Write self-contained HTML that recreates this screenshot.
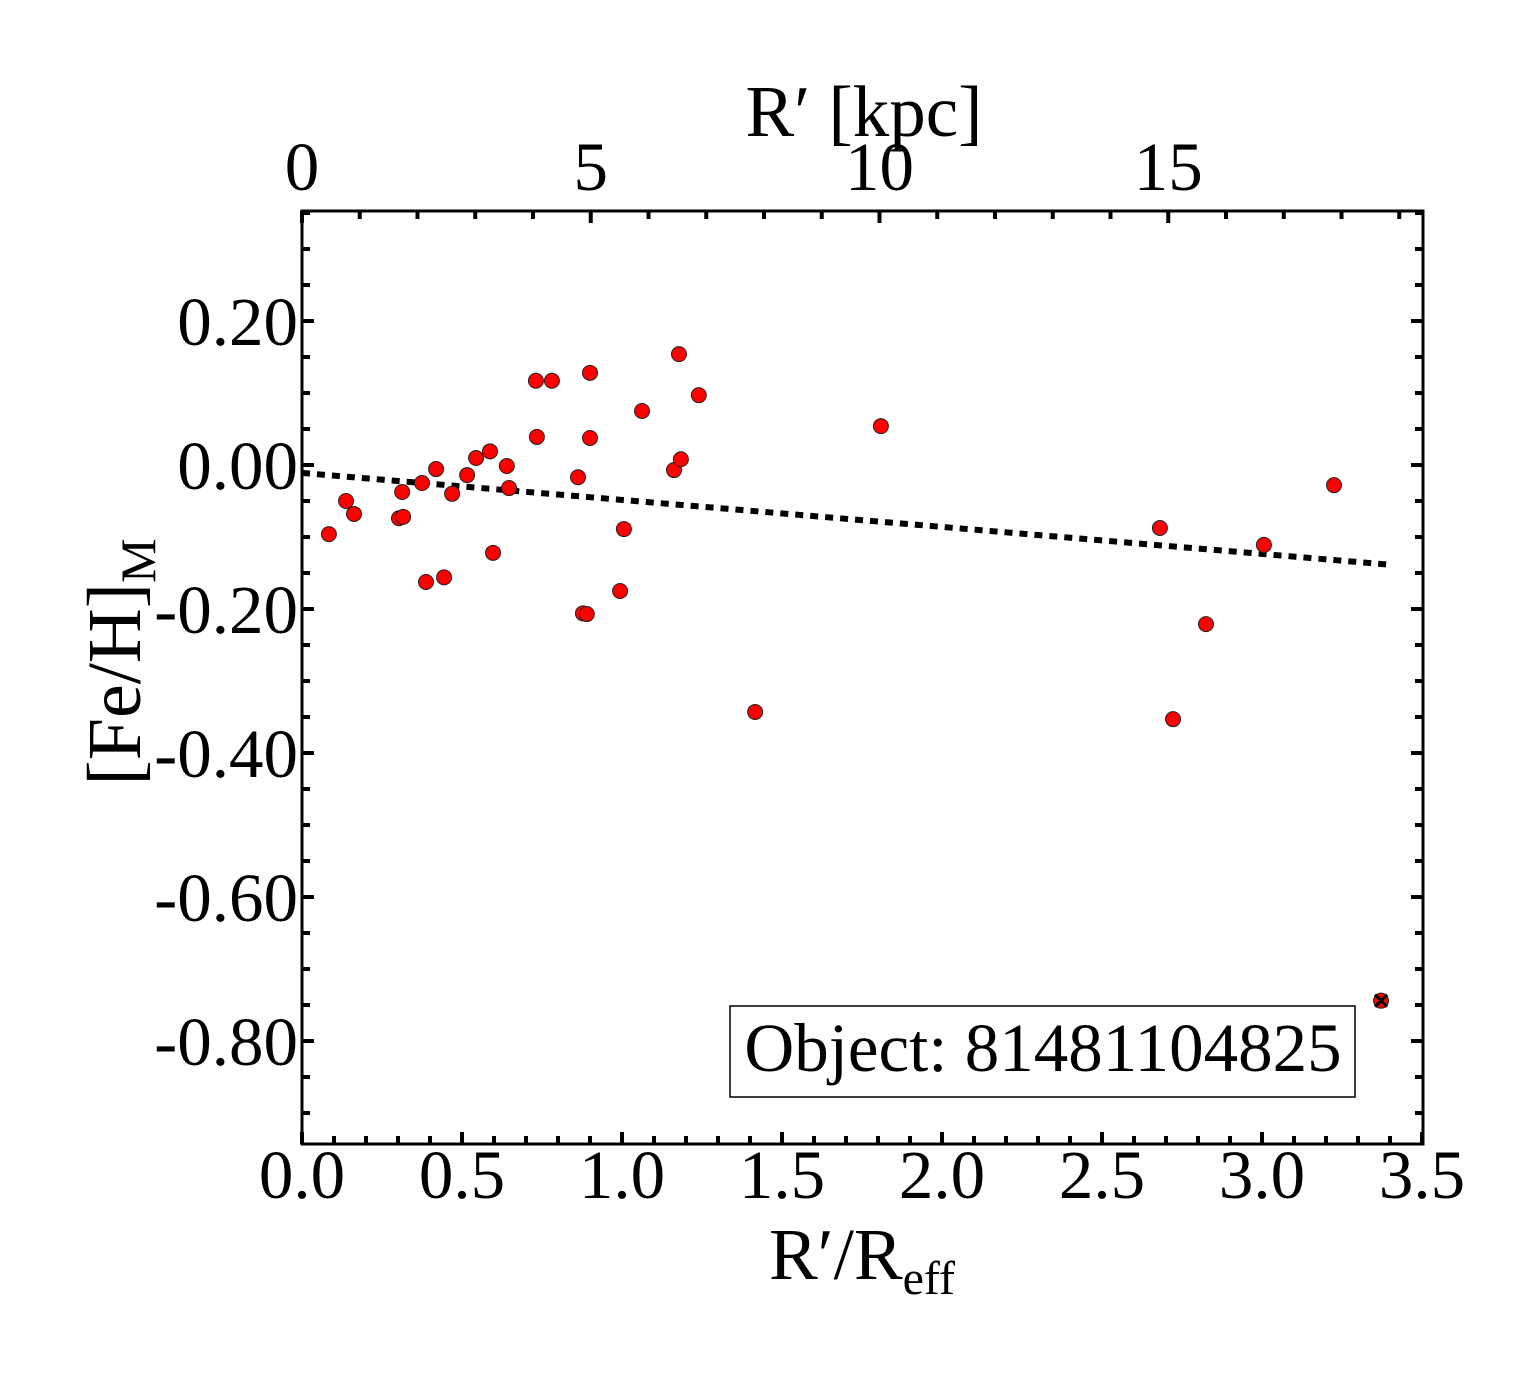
<!DOCTYPE html>
<html><head><meta charset="utf-8"><style>
html,body{margin:0;padding:0;background:#fff;}
svg{display:block;font-family:"Liberation Serif",serif;}
</style></head><body>
<svg id="chart" width="1540" height="1375" xmlns="http://www.w3.org/2000/svg">
<g id="plot"></g>
</svg>
<script>
const xVals=[0.084,0.1375,0.1625,0.303,0.316,0.313,0.375,0.3875,0.419,0.444,0.469,0.516,0.544,0.5875,0.597,0.64,0.647,0.731,0.734,0.781,0.8625,0.878,0.89,0.9,0.9,0.994,1.006,1.0625,1.1625,1.178,1.184,1.24,1.416,1.809,2.681,2.722,2.825,3.006,3.225];
const yVals=[-0.096,-0.05,-0.068,-0.074,-0.072,-0.0375,-0.025,-0.1625,-0.0056,-0.156,-0.04,-0.014,0.0097,0.019,-0.122,-0.0014,-0.032,0.117,0.039,0.117,-0.017,-0.206,-0.207,0.128,0.0375,-0.175,-0.089,0.075,-0.007,0.154,0.008,0.097,-0.343,0.054,-0.0875,-0.353,-0.221,-0.111,-0.028];
const outlierX=[3.372];
const outlierY=[-0.744];
const fitX=[0,3.4];
const fitY=[-0.011,-0.1385];
const xTicks=[0,0.5,1,1.5,2,2.5,3,3.5];
const xTickLabels=["0.0","0.5","1.0","1.5","2.0","2.5","3.0","3.5"];
const yTicks=[0.2,0,-0.2,-0.4,-0.6,-0.8];
const yTickLabels=["0.20","0.00","-0.20","-0.40","-0.60","-0.80"];
const topTicks=[0,5,10,15];
const topTickLabels=["0","5","10","15"];

const L=302,R=1423,T=211,B=1144;
const X=v=>L+v*320;
const Y=v=>465-v*720;
const K=v=>L+v*57.75;
const NS="http://www.w3.org/2000/svg";
const g=document.getElementById('plot');
function mk(tag,attrs,parent){const e=document.createElementNS(NS,tag);for(const k in attrs)e.setAttribute(k,attrs[k]);(parent||g).appendChild(e);return e;}

const tk=mk('g',{});


for(let i=0;i<=35;i++){const x=X(i/10);const len=(i%5===0)?12:8;
 mk('line',{x1:x,y1:B,x2:x,y2:B-len,stroke:'#000','stroke-width':4},tk);}
for(let i=0;i<=19;i++){const x=K(i);if(x>R)break;const len=(i%5===0)?12:8;
 mk('line',{x1:x,y1:T,x2:x,y2:T+len,stroke:'#000','stroke-width':4},tk);}
for(let i=-19;i<=7;i++){const y=Y(i*0.05);if(y<T||y>B)continue;const len=(i%4===0)?12:8;
 mk('line',{x1:L,y1:y,x2:L+len,y2:y,stroke:'#000','stroke-width':4},tk);
 mk('line',{x1:R,y1:y,x2:R-len,y2:y,stroke:'#000','stroke-width':4},tk);}

const fr=mk('rect',{x:L,y:T,width:R-L,height:B-T,fill:'none',stroke:'#000','stroke-width':3});



xTicks.forEach((v,i)=>{const t=mk('text',{x:X(v),y:1198,'font-size':69,'text-anchor':'middle'});t.textContent=xTickLabels[i];
 
 });
topTicks.forEach((v,i)=>{const t=mk('text',{x:K(v),y:190,'font-size':69,'text-anchor':'middle'});t.textContent=topTickLabels[i];
 
 });
yTicks.forEach((v,i)=>{const t=mk('text',{x:298,y:Y(v)+24,'font-size':69,'text-anchor':'end'});t.textContent=yTickLabels[i];
 
 });

const fl=mk('line',{x1:X(fitX[0]),y1:Y(fitY[0]),x2:X(fitX[1]),y2:Y(fitY[1]),stroke:'#000','stroke-width':6,'stroke-dasharray':'8 7'});



xVals.forEach((v,i)=>{const c=mk('circle',{cx:X(v),cy:Y(yVals[i]),r:7.5,fill:'#ff0000',stroke:'#222','stroke-width':1});
 
 });
outlierX.forEach((v,i)=>{const cx=X(v),cy=Y(outlierY[i]);
 const c=mk('circle',{cx:cx,cy:cy,r:7.5,fill:'#ff0000',stroke:'#222','stroke-width':1});
 
 
 mk('path',{d:`M${cx-6},${cy-6}L${cx+6},${cy+6}M${cx+6},${cy-6}L${cx-6},${cy+6}`,stroke:'#000','stroke-width':3});});
</script>
<svg width="1540" height="1375" style="position:absolute;left:0;top:0" xmlns="http://www.w3.org/2000/svg">
<g font-family="Liberation Serif, serif">
<rect x="730" y="1006" width="625" height="91" fill="#fff" stroke="#000" stroke-width="1.5"/>
<text x="1043" y="1071" font-size="69" text-anchor="middle">Object: 81481104825</text>
<text x="864" y="136" font-size="73" text-anchor="middle">R′ [kpc]</text>
<text x="862" y="1279" font-size="73" text-anchor="middle">R′/R<tspan font-size="48" dy="15">eff</tspan></text>
<text transform="translate(140,662) rotate(-90)" font-size="76" text-anchor="middle">[Fe/H]<tspan font-size="50" dy="15">M</tspan></text>
</g>
</svg>
</body></html>
